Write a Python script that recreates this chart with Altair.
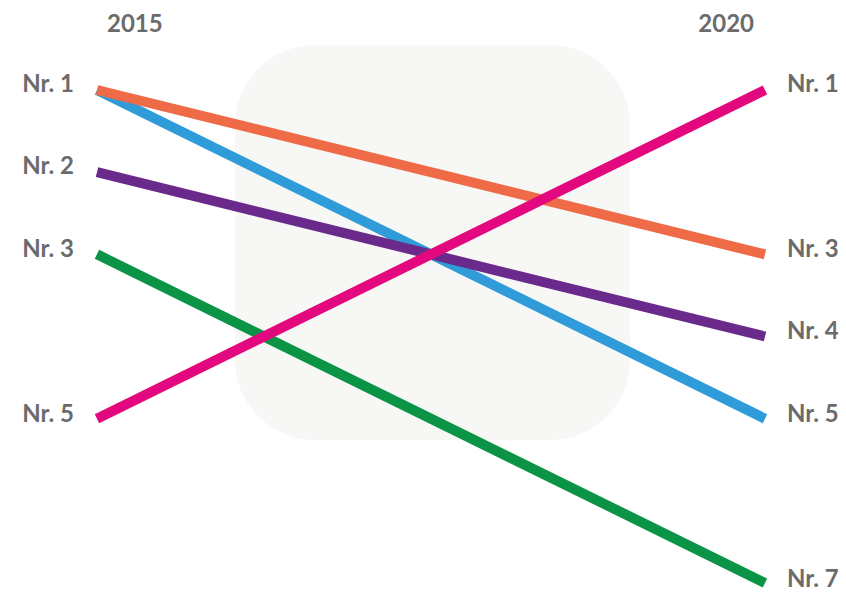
import altair as alt
import pandas as pd

# --- data ---
series = ["blue", "purple", "green", "orange", "pink"]
colors = ["#2f9bd9", "#6a2a8c", "#0b9446", "#ef6b47", "#e4087f"]
rank_2015 = [1, 2, 3, 1, 5]
rank_2020 = [5, 4, 7, 3, 1]
years = ["2015", "2020"]
year_pos = [0, 1]

rows = []
for i, s in enumerate(series):
    rows.append({"series": s, "pos": 0, "rank": rank_2015[i], "ord": i})
    rows.append({"series": s, "pos": 1, "rank": rank_2020[i], "ord": i})
df = pd.DataFrame(rows)

left = pd.DataFrame({"pos": 0, "rank": sorted(set(rank_2015))})
left["label"] = "Nr. " + left["rank"].astype(str)
right = pd.DataFrame({"pos": 1, "rank": sorted(set(rank_2020))})
right["label"] = "Nr. " + right["rank"].astype(str)

W, H = 830, 585
xs = alt.Scale(domain=[-0.1332, 1.1093], nice=False, zero=False)
ys = alt.Scale(domain=[0.002, 7.1215], reverse=True, nice=False, zero=False)
ys_lab = alt.Scale(domain=[0.0667, 7.1576], reverse=True, nice=False, zero=False)

X = alt.X("pos:Q", scale=xs, axis=None)
Y = alt.Y("rank:Q", scale=ys, axis=None)
YL = alt.Y("rank:Q", scale=ys_lab, axis=None)

font = "Lato"
grey = "#6b6b6b"
fs = 24

bg = alt.Chart(pd.DataFrame({"a": [0]})).mark_rect(
    color="#f7f7f5", cornerRadius=80
).encode(x=alt.value(227), x2=alt.value(622), y=alt.value(37), y2=alt.value(432))

# draw series as separate layers to control z-order
line_layers = [
    alt.Chart(df[df.series == s]).mark_line(strokeWidth=10, strokeCap="butt", color=colors[i]).encode(x=X, y=Y)
    for i, s in enumerate(series)
]
lines = alt.layer(*line_layers)

ltext = alt.Chart(left).mark_text(
    align="right", baseline="middle", dx=-23, font=font, fontWeight="bold", fontSize=fs, color=grey
).encode(x=X, y=YL, text="label:N")
rtext = alt.Chart(right).mark_text(
    align="left", baseline="middle", dx=22, font=font, fontWeight="bold", fontSize=fs, color=grey
).encode(x=X, y=YL, text="label:N")
labels = alt.layer(ltext, rtext)

ydf = pd.DataFrame({"pos": year_pos, "year": years})
y1 = alt.Chart(ydf[ydf.pos == 0]).mark_text(
    align="left", baseline="middle", dx=10, font=font, fontWeight="bold", fontSize=fs, color=grey
).encode(x=X, y=alt.value(17), text="year:N")
y2 = alt.Chart(ydf[ydf.pos == 1]).mark_text(
    align="right", baseline="middle", dx=-11, font=font, fontWeight="bold", fontSize=fs, color=grey
).encode(x=X, y=alt.value(17), text="year:N")

chart = alt.layer(bg, lines, labels, y1, y2).resolve_scale(y="independent").properties(
    width=W, height=H, padding=0, background="white",
    autosize=alt.AutoSizeParams(type="none"),
).configure_view(strokeWidth=0)

chart.save("out.html", embed_options={"renderer": "svg", "actions": False})
